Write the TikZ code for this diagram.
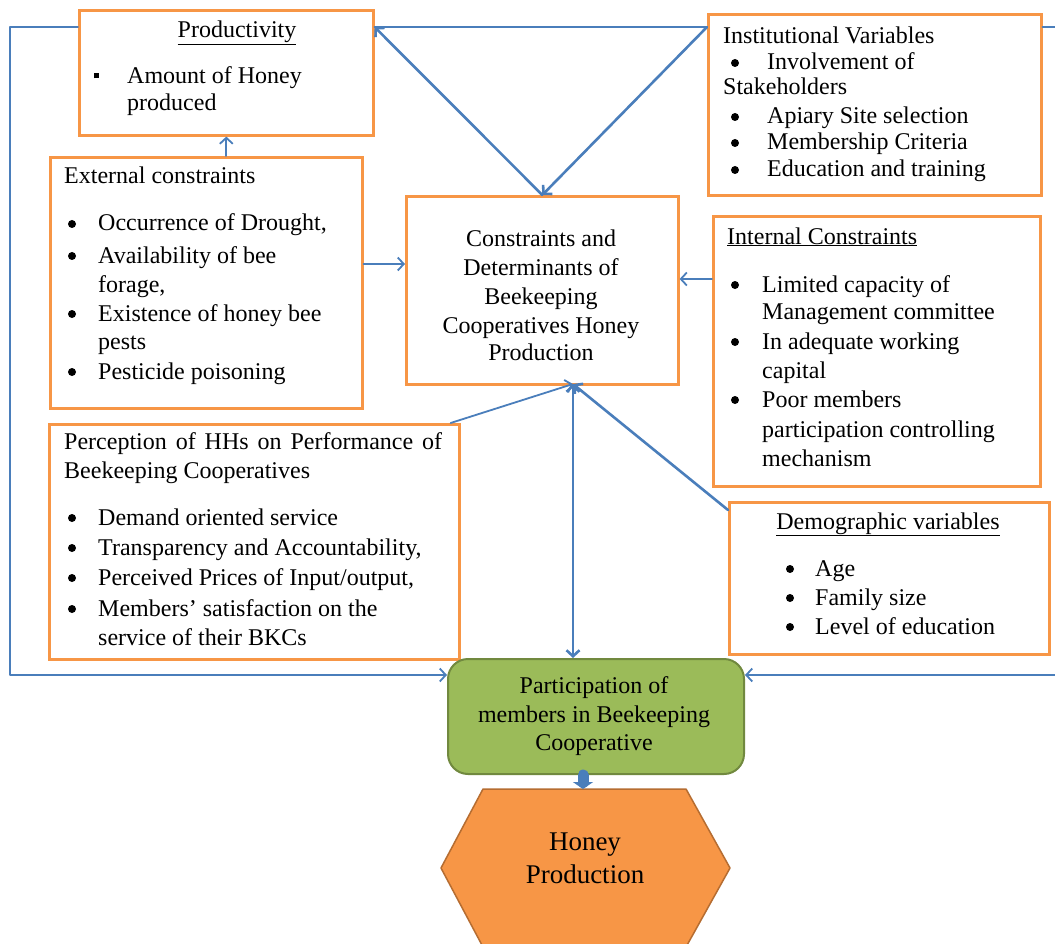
\documentclass[tikz,border=0pt]{standalone}
\usepackage{fontspec}
\setmainfont{Liberation Serif}
\usetikzlibrary{arrows.meta}
\definecolor{boxorange}{HTML}{F79646}
\definecolor{linkblue}{HTML}{4A7EBB}
\definecolor{partgreen}{HTML}{9BBB59}
\definecolor{partgreenline}{HTML}{71893F}
\definecolor{honeyline}{HTML}{B66D31}

\begin{document}
\begin{tikzpicture}[x=1pt,y=-1pt,line cap=round,line join=round,
  >={Straight Barb[length=6pt,width=13pt]},
  box/.style={draw=boxorange,line width=2.6pt,line join=miter,anchor=north west,inner sep=0pt},
  txt/.style={anchor=base west,inner sep=0pt,font=\fontsize{24}{29}\selectfont},
  ctxt/.style={txt,anchor=base},
  dot/.style={circle,fill=black,inner sep=0pt,minimum size=8pt},
  conn/.style={draw=linkblue,line width=1.8pt},
  thickconn/.style={conn,line width=2.6pt}]
\useasboundingbox (0,0) rectangle (1055,944);
\fill[white] (0,0) rectangle (1055,944);
\clip (0,0) rectangle (1055,944);

%laatikot
\node[box,minimum width=294,minimum height=125] (prod) at (78,9) {};
\node[box,minimum width=333,minimum height=181] (inst) at (707,13) {};
\node[box,minimum width=312,minimum height=251] (ext) at (49,156) {};
\node[box,minimum width=272,minimum height=188] (ctr) at (405,195) {};
\node[box,minimum width=327,minimum height=270] (int) at (712,215) {};
\node[box,minimum width=410,minimum height=235] (perc) at (48,423) {};
\node[box,minimum width=320,minimum height=152] (demo) at (728,501) {};
\node[draw=partgreenline,fill=partgreen,line width=2pt,rounded corners=20pt,
  minimum width=296,minimum height=115,anchor=north west,inner sep=0pt] (part) at (447,658) {};
\filldraw[fill=boxorange,draw=honeyline,line width=1.5pt]
  (483,789) -- (686,789) -- (730,868) -- (686,947) -- (483,947) -- (441,868) -- cycle;
\coordinate (hextop) at (583,789);

%productivity
\node[ctxt] (prod-h) at (237,38) {\underline{Productivity}};
\node[inner sep=0pt] (prod-b) at (96,76) {\rule{5pt}{5pt}};
\foreach \y/\t [count=\i] in {84/Amount of Honey,111/produced}
  \node[txt] (prod-\i) at (127,\y) {\t};

%institutional
\node[txt] (inst-h) at (723,44) {Institutional Variables};
\node[txt] (inst-s) at (723,95) {Stakeholders};
\foreach \y/\t [count=\i] in {70/Involvement of,124/Apiary Site selection,150/Membership Criteria,177/Education and training}
{
\node[dot] (inst-b\i) at (735,\y-7) {};
\node[txt] (inst-\i) at (767,\y) {\t};
}

%external
\node[txt] (ext-h) at (64,184) {External constraints};
\foreach \y/\t [count=\i] in {231/{Occurrence of Drought,},263/Availability of bee,292/{forage,},321/Existence of honey bee,349/pests,379/Pesticide poisoning}
  \node[txt] (ext-\i) at (98,\y) {\t};
\foreach \y [count=\i] in {231,263,321,379}
  \node[dot] (ext-b\i) at (72,\y-7) {};

%keskilaatikko
\foreach \y/\t [count=\i] in {247/Constraints and,276/Determinants of,304/Beekeeping,333/Cooperatives Honey,360/Production}
  \node[ctxt] (ctr-\i) at (541,\y) {\t};

%internal
\node[txt] (int-h) at (727,244) {\underline{Internal Constraints}};
\foreach \y/\t [count=\i] in {292/Limited capacity of,319/Management committee,349/In adequate working,378/capital,407/Poor members,437/participation controlling,466/mechanism}
  \node[txt] (int-\i) at (762,\y) {\t};
\foreach \y [count=\i] in {292,349,407}
  \node[dot] (int-b\i) at (735,\y-7) {};

%perception
\node[txt] (perc-h1) at (64,449) {\makebox[378pt][s]{Perception of HHs on Performance of}};
\node[txt] (perc-h2) at (64,478) {Beekeeping Cooperatives};
\foreach \y/\t [count=\i] in {525/Demand oriented service,555/{Transparency and Accountability,},585/{Perceived Prices of Input/output,},616/Members' satisfaction on the,645/service of their BKCs}
  \node[txt] (perc-\i) at (98,\y) {\t};
\foreach \y [count=\i] in {525,555,585,616}
  \node[dot] (perc-b\i) at (72,\y-7) {};

%demographic
\node[ctxt] (demo-h) at (888,529) {\underline{Demographic variables}};
\foreach \y/\t [count=\i] in {576/Age,605/Family size,634/Level of education}
{
\node[dot] (demo-b\i) at (790,\y-7) {};
\node[txt] (demo-\i) at (815,\y) {\t};
}

%participation ja honey
\foreach \y/\t [count=\i] in {693/Participation of,722/members in Beekeeping,750/Cooperative}
  \node[ctxt] (part-\i) at (594,\y) {\t};
\foreach \y/\t [count=\i] in {850/Honey,883/Production}
  \node[ctxt,font=\fontsize{27}{32}\selectfont] (honey-\i) at (585,\y) {\t};

%nuolet
\coordinate (lt) at (10,27);
\coordinate (lb) at (10,675);
\coordinate (rt) at (1070,27);
\coordinate (rb) at (1070,675);
\coordinate (ey) at (0,264);
\coordinate (iy) at (0,279);
\coordinate (cb) at (573,384);
\draw[conn,->] (prod.west |- lt) -- (lt) -- (lb) -- (part.west |- lb);
\draw[conn,->] (inst.east |- rt) -- (rt) -- (rb) -- (part.east |- rb);
\draw[conn] (inst.west |- lt) -- (prod.east |- lt);
\draw[thickconn,->] (inst.west |- lt) -- (ctr.north);
\draw[thickconn,->] (ctr.north) -- (prod.east |- lt);
\draw[conn,->] (prod.south |- ext.north) -- (prod.south);
\draw[conn,->] (ext.east |- ey) -- (ctr.west |- ey);
\draw[conn,->] (int.west |- iy) -- (ctr.east |- iy);
\draw[conn,->] ([xshift=-10pt]perc.north east) -- (cb);
\draw[thickconn,<->] (cb) -- (part.north -| cb);
\draw[thickconn,->] ([yshift=-9pt]demo.north west) -- (cb);
\draw[draw=linkblue,line width=11pt,-{Triangle[length=7pt,width=20pt]}] (hextop |- part.south) -- (hextop);
\end{tikzpicture}
\end{document}
